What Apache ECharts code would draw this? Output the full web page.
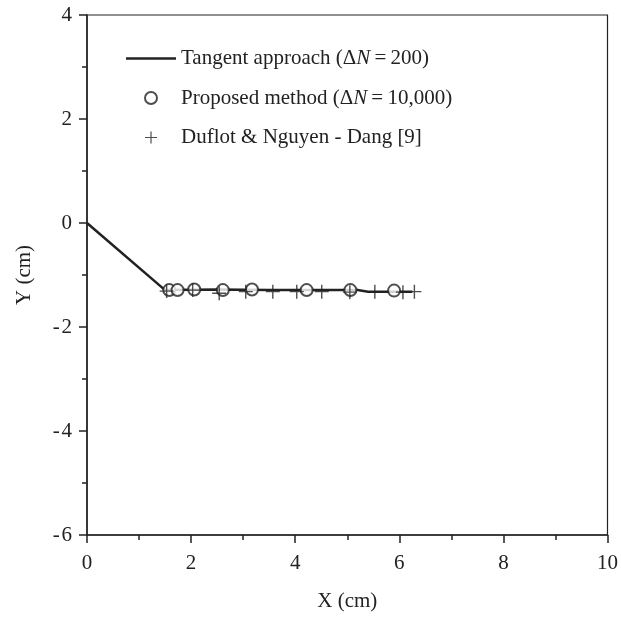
<!DOCTYPE html>
<html><head><meta charset="utf-8">
<script src="https://cdn.jsdelivr.net/npm/echarts@6/dist/echarts.min.js"></script>
<style>html,body{margin:0;padding:0;background:#fff}#c{width:621px;height:617px}</style>
</head><body><div id="c"></div>
<script>
// Tangent approach (ΔN = 200) crack path
const tangentX = [0, 1.5, 2.5, 3.5, 4.5, 5.2, 5.4, 6.25];
const tangentY = [0, -1.29, -1.28, -1.29, -1.29, -1.29, -1.32, -1.32];
// Proposed method (ΔN = 10,000)
const proposedX = [1.58, 1.74, 2.06, 2.61, 3.17, 4.22, 5.06, 5.90];
const proposedY = [-1.29, -1.29, -1.28, -1.29, -1.28, -1.29, -1.29, -1.30];
// Duflot & Nguyen - Dang [9]
const duflotX = [1.53, 2.03, 2.54, 3.05, 3.57, 4.03, 4.51, 5.05, 5.53, 6.07, 6.29];
const duflotY = [-1.31, -1.29, -1.35, -1.32, -1.32, -1.32, -1.32, -1.33, -1.32, -1.33, -1.32];
const xTicks = [0, 2, 4, 6, 8, 10];
const yTicks = [-6, -4, -2, 0, 2, 4];
const names = ['Tangent approach', 'Proposed method', 'Duflot & Nguyen - Dang [9]'];

const zip = (a, b) => a.map((v, i) => [v, b[i]]);
const FONT = '"Liberation Serif", "DejaVu Serif", serif';
const INK = '#222';
const plus = 'path://M-0.1,-1 L0.1,-1 L0.1,-0.1 L1,-0.1 L1,0.1 L0.1,0.1 L0.1,1 L-0.1,1 L-0.1,0.1 L-1,0.1 L-1,-0.1 L-0.1,-0.1 Z';
const dash = 'path://M0,0 L50,0 L50,2.5 L0,2.5 Z';

const chart = echarts.init(document.getElementById('c'), null, {renderer: 'canvas'});
chart.setOption({
  animation: false,
  backgroundColor: '#fff',
  grid: {left: 87, right: 10, top: 15, bottom: 79, show: true, borderColor: INK, borderWidth: 1.2, backgroundColor: 'transparent'},
  legend: {
    left: 121, top: 43, orient: 'vertical', itemWidth: 50, itemHeight: 12, itemGap: 18.5,
    textStyle: {fontFamily: FONT, fontSize: 21, color: INK,
      rich: {i: {fontFamily: FONT, fontSize: 21, fontStyle: 'italic', color: INK}}},
    formatter: function (n) {
      if (n === names[0]) return 'Tangent approach (Δ{i|N}\u2009=\u2009200)';
      if (n === names[1]) return 'Proposed method (Δ{i|N}\u2009=\u200910,000)';
      return n;
    },
    data: [
      {name: names[0], icon: dash},
      {name: names[1], icon: 'emptyCircle'},
      {name: names[2], icon: plus}
    ]
  },
  xAxis: {
    type: 'value', min: 0, max: 10, interval: 2,
    name: 'X (cm)', nameLocation: 'middle', nameGap: 56,
    nameTextStyle: {fontFamily: FONT, fontSize: 21, color: INK},
    axisLine: {onZero: false, lineStyle: {color: INK, width: 1.5}},
    axisTick: {length: 8, lineStyle: {color: INK, width: 1.5}},
    minorTick: {show: true, splitNumber: 2, length: 5, lineStyle: {color: INK, width: 1.5}},
    axisLabel: {fontFamily: FONT, fontSize: 21, color: INK, margin: 18,
      formatter: v => xTicks.includes(v) ? String(v) : ''},
    splitLine: {show: false}
  },
  yAxis: {
    type: 'value', min: -6, max: 4, interval: 2,
    name: 'Y (cm)', nameLocation: 'middle', nameGap: 52, nameRotate: 90,
    nameTextStyle: {fontFamily: FONT, fontSize: 21, color: INK},
    axisLine: {onZero: false, lineStyle: {color: INK, width: 1.5}},
    axisTick: {length: 8, lineStyle: {color: INK, width: 1.5}},
    minorTick: {show: true, splitNumber: 2, length: 5, lineStyle: {color: INK, width: 1.5}},
    axisLabel: {fontFamily: FONT, fontSize: 21, color: INK, margin: 15,
      formatter: v => yTicks.includes(v) ? String(v).replace('-', '-\u200A') : ''},
    splitLine: {show: false}
  },
  series: [
    {name: names[0], type: 'line', data: zip(tangentX, tangentY), showSymbol: false, symbol: 'none',
      lineStyle: {color: INK, width: 2.5}, itemStyle: {color: INK}, z: 3},
    {name: names[1], type: 'scatter', data: zip(proposedX, proposedY), symbol: 'emptyCircle', symbolSize: 12,
      itemStyle: {color: INK, borderColor: INK, borderWidth: 1.1}, z: 4},
    {name: names[2], type: 'scatter', data: zip(duflotX, duflotY), symbol: plus, symbolSize: 14,
      itemStyle: {color: INK}, z: 5}
  ]
});
</script></body></html>
